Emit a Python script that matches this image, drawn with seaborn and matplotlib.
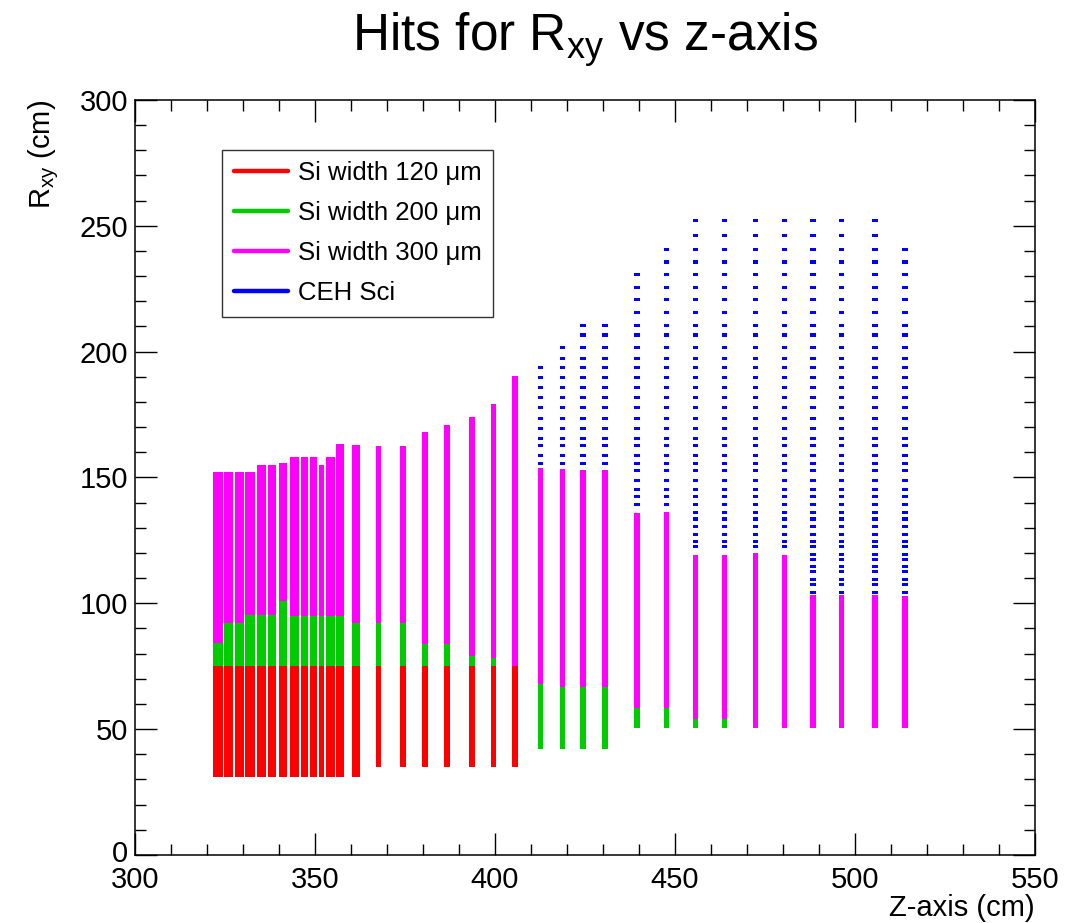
import numpy as np
import pandas as pd
import matplotlib
matplotlib.use("Agg")
import matplotlib.pyplot as plt
import matplotlib.transforms as mtransforms
from matplotlib.lines import Line2D
import seaborn as sns

# ---------------- data ----------------
layer_z = [323.1, 326.0, 329.1, 332.0, 335.2, 338.1, 341.1, 344.3, 347.1, 349.6,
           351.8, 354.3, 357.0, 361.3,
           367.6, 374.5, 380.6, 386.6, 393.6, 399.6, 405.6,
           412.7, 418.7, 424.5, 430.6, 439.5, 447.7, 455.7, 463.8, 472.4, 480.4,
           488.3, 496.3, 505.6, 513.9]
si_inner = [30.9] * 14 + [34.9] * 7 + [42.3] * 4 + [50.3] * 10
top_120 = [75.1] * 21 + [42.3] * 4 + [50.3] * 10
top_200 = [84.1, 92.0, 92.0, 95.4, 95.4, 95.4, 101.0, 94.9, 94.9, 94.9,
           94.9, 94.9, 94.9, 92.0,
           92.0, 92.0, 83.8, 83.8, 79.1, 78.2, 75.1,
           67.9, 66.6, 66.6, 66.6, 58.5, 58.5, 54.0, 54.0, 50.3, 50.3,
           50.3, 50.3, 50.3, 50.3]
top_300 = [152.3, 152.3, 152.3, 152.3, 155.0, 155.0, 155.6, 158.2, 158.2, 158.2,
           155.0, 158.2, 163.3, 162.9,
           162.5, 162.5, 168.2, 170.8, 173.9, 179.0, 190.3,
           153.8, 153.4, 153.0, 153.0, 136.0, 136.4, 119.2, 119.2, 120.0, 119.2,
           103.3, 103.3, 103.3, 103.0]
sci_outer = [np.nan] * 21 + [193.6, 201.7, 210.5, 210.5, 230.5, 240.6,
                             252.0, 252.0, 252.0, 252.0, 252.0, 252.0, 252.0, 240.6]
sci_rings = [252.0, 246.0, 240.6, 235.6, 230.5, 225.6, 220.7, 215.7, 210.5, 206.6,
             201.7, 197.4, 193.6, 189.6, 185.8, 181.8, 177.7, 173.5, 169.3, 165.5,
             162.6, 158.6, 155.6, 152.6, 148.8, 145.3, 142.4, 139.2, 136.2, 133.5,
             130.6, 127.3, 124.4, 122.4, 119.5, 117.4, 114.5, 112.5, 109.3, 107.5,
             104.3]
labels = ["Si width 120 \u03bcm", "Si width 200 \u03bcm", "Si width 300 \u03bcm", "CEH Sci"]

# ---------------- style ----------------
sns.set_theme(style="ticks")
plt.rcParams["font.family"] = ["Liberation Sans", "DejaVu Sans"]
plt.rcParams["mathtext.fontset"] = "custom"
plt.rcParams["mathtext.rm"] = "Liberation Sans"
plt.rcParams["mathtext.it"] = "Liberation Sans:italic"
for key in ["text.color", "axes.labelcolor", "xtick.color", "ytick.color", "axes.edgecolor"]:
    plt.rcParams[key] = "black"

colors = ["#ff0000", "#00cc00", "#ff00ff", "#0000ff"]
# drawn bar widths (cm) per layer position — style only
bar_width = [2.6, 2.6, 2.4, 2.6, 2.6, 2.4, 2.4, 2.5, 2.1, 1.9, 1.4, 2.3, 2.3, 2.3] + [1.55] * 21

fig = plt.figure(figsize=(10.78, 9.23), dpi=100)
ax = fig.add_axes([0.1252, 0.0737, 0.8349, 0.818])

# silicon segments
seg_rows = []
for i, z in enumerate(layer_z):
    edges = [si_inner[i], top_120[i], top_200[i], top_300[i]]
    for k in range(3):
        if edges[k + 1] - edges[k] > 0:
            seg_rows.append(dict(z=z, bottom=edges[k], top=edges[k + 1], kind=k, w=bar_width[i]))
seg = pd.DataFrame(seg_rows)
for k in range(3):
    d = seg[seg.kind == k]
    ax.bar(d.z, d.top - d.bottom, bottom=d.bottom, width=d.w,
           color=colors[k], linewidth=0, zorder=2)

# scintillator hits
sci_rows = []
for i, z in enumerate(layer_z):
    if np.isnan(sci_outer[i]):
        continue
    for r in sci_rings:
        if top_300[i] + 0.8 < r <= sci_outer[i] + 0.5:
            sci_rows.append(dict(z=z, r=r))
sci = pd.DataFrame(sci_rows)
rect = [(-0.8, -0.45), (0.8, -0.45), (0.8, 0.45), (-0.8, 0.45)]
sns.scatterplot(data=sci, x="z", y="r", marker=rect, s=16, color=colors[3],
                edgecolor="none", linewidth=0, legend=False, ax=ax, zorder=3)

# axes
ax.set_xlim(300, 550)
ax.set_ylim(0, 300)
ax.set_xticks(np.arange(300, 551, 50))
ax.set_yticks(np.arange(0, 301, 50))
ax.set_xticks(np.arange(300, 551, 10), minor=True)
ax.set_yticks(np.arange(0, 301, 10), minor=True)
ax.tick_params(which="both", direction="in", top=True, right=True, width=1.0,
               color="black", labelsize=21, labelcolor="black")
ax.tick_params(axis="x", which="both", pad=8)
ax.tick_params(axis="y", which="both", pad=5)
ax.tick_params(which="major", length=16)
ax.tick_params(which="minor", length=8)
for s in ax.spines.values():
    s.set_linewidth(1.1)
    s.set_color("black")
    s.set_visible(True)

# lift the "0" label a touch so it just clears the "300" below it
fig.canvas.draw()
zero_lbl = ax.get_yticklabels()[0]
zero_lbl.set_transform(zero_lbl.get_transform() +
                       mtransforms.ScaledTranslation(0, 3 / 72, fig.dpi_scale_trans))

ax.set_xlabel("Z-axis (cm)", fontsize=21, loc="right")
ax.xaxis.set_label_coords(1.0, -0.052)
ax.set_ylabel("R$_{\\mathrm{xy}}$ (cm)", fontsize=21, loc="top")
ax.yaxis.set_label_coords(-0.082, 1.0)

fig.text(0.543, 0.957, "Hits for R$_{\\mathrm{xy}}$ vs z-axis", fontsize=37,
         ha="center", va="center", color="black")

handles = [Line2D([0], [0], color=c, lw=3.2) for c in colors]
leg = ax.legend(handles, labels, loc="upper left", bbox_to_anchor=(0.0967, 0.934),
                borderaxespad=0, fontsize=18.5, frameon=True, fancybox=False,
                edgecolor="black", handlelength=2.1, handletextpad=0.4,
                labelspacing=0.62, borderpad=0.45)
leg.get_frame().set_linewidth(1.0)

fig.savefig("out.png", dpi=100)
